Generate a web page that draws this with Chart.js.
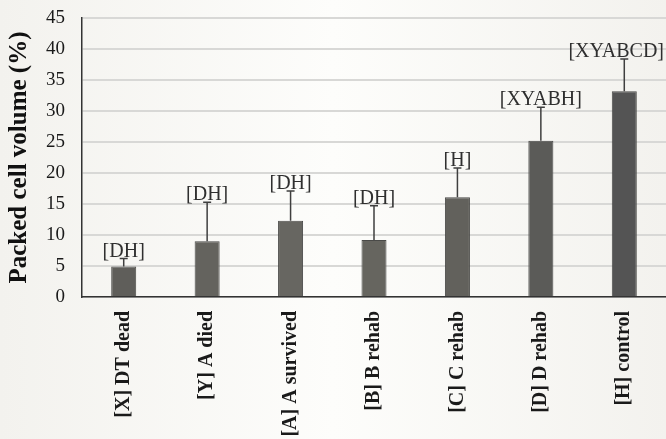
<!DOCTYPE html>
<html>
<head>
<meta charset="utf-8">
<script src="https://cdn.jsdelivr.net/npm/chart.js@4.4.1/dist/chart.umd.min.js"></script>
<style>
  html, body { margin: 0; padding: 0; }
  body { width: 666px; height: 439px; background: linear-gradient(90deg, #f3f2ee 0%, #fdfdfb 50%, #f3f2ee 100%); }
  #wrap { position: relative; width: 666px; height: 439px; }
</style>
</head>
<body>
<div id="wrap"><canvas id="chart"></canvas></div>
<script>
// categories and values
const groups = ['[X] DT dead', '[Y] A died', '[A] A survived', '[B] B rehab', '[C] C rehab', '[D] D rehab', '[H] control'];
const pcv = [4.9, 9.0, 12.3, 9.2, 16.1, 25.2, 33.2];
const pcvErr = [1.3, 6.3, 4.8, 5.5, 4.7, 5.4, 5.2];
const letters = ['[DH]', '[DH]', '[DH]', '[DH]', '[H]', '[XYABH]', '[XYABCD]'];
const yTicks = [0, 5, 10, 15, 20, 25, 30, 35, 40, 45];

const barColors = ['#5f5e5a', '#64635e', '#676661', '#66655f', '#62615c', '#5b5b58', '#545454'];
const serif = "'Liberation Serif', 'DejaVu Serif', serif";

// draws the upper error whisker and the letter labels over each bar
const errorBars = {
  id: 'errorBars',
  afterDatasetsDraw(chart) {
    const ctx = chart.ctx;
    const meta = chart.getDatasetMeta(0);
    const y = chart.scales.y;
    ctx.save();
    meta.data.forEach((bar, i) => {
      const top = y.getPixelForValue(pcv[i]);
      const cap = y.getPixelForValue(pcv[i] + pcvErr[i]);
      ctx.strokeStyle = '#3f3f3f';
      ctx.lineWidth = 1.5;
      ctx.beginPath();
      ctx.moveTo(bar.x, top);
      ctx.lineTo(bar.x, cap);
      ctx.moveTo(bar.x - 4, cap);
      ctx.lineTo(bar.x + 4, cap);
      ctx.stroke();

      ctx.fillStyle = '#2f2f2f';
      ctx.font = '20px ' + serif;
      ctx.textAlign = 'center';
      ctx.textBaseline = 'alphabetic';
      // keep the last label inside the canvas
      const w = ctx.measureText(letters[i]).width;
      const tx = Math.min(bar.x, chart.width - w / 2 - 2);
      ctx.fillText(letters[i], tx, cap - 2);
    });
    ctx.restore();
  }
};

new Chart(document.getElementById('chart'), {
  type: 'bar',
  data: {
    labels: groups,
    datasets: [{
      data: pcv,
      backgroundColor: barColors,
      borderColor: '#4a4a48',
      borderWidth: 1,
      barPercentage: 0.3,
      categoryPercentage: 1
    }]
  },
  options: {
    responsive: true,
    maintainAspectRatio: false,
    animation: false,
    layout: { padding: { top: 18, right: 0, bottom: 0, left: 0 } },
    plugins: {
      legend: { display: false },
      tooltip: { enabled: false }
    },
    scales: {
      x: {
        afterFit(scale) { scale.height = 142; scale.paddingTop = 0; scale.paddingLeft = 0; scale.paddingRight = 0; },
        grid: { display: false, drawTicks: false },
        border: { color: '#333', width: 1.5 },
        ticks: {
          color: '#1a1a1a',
          font: { family: serif, size: 20, weight: 'bold' },
          minRotation: 90,
          maxRotation: 90,
          autoSkip: false,
          padding: 14
        }
      },
      y: {
        min: 0,
        max: 45,
        afterBuildTicks(scale) { scale.ticks = yTicks.map(v => ({ value: v })); },
        afterFit(scale) { scale.width = 82; scale.paddingTop = 0; scale.paddingBottom = 0; },
        grid: { color: '#d8d8d6', lineWidth: 2, drawTicks: false },
        border: { color: '#333', width: 1.5 },
        ticks: {
          color: '#1a1a1a',
          font: { family: serif, size: 19 },
          padding: 17
        },
        title: {
          display: true,
          text: 'Packed cell volume (%)',
          color: '#111',
          font: { family: serif, size: 25, weight: 'bold' },
          padding: { top: 5, bottom: 0 }
        }
      }
    }
  },
  plugins: [errorBars]
});
</script>
</body>
</html>
